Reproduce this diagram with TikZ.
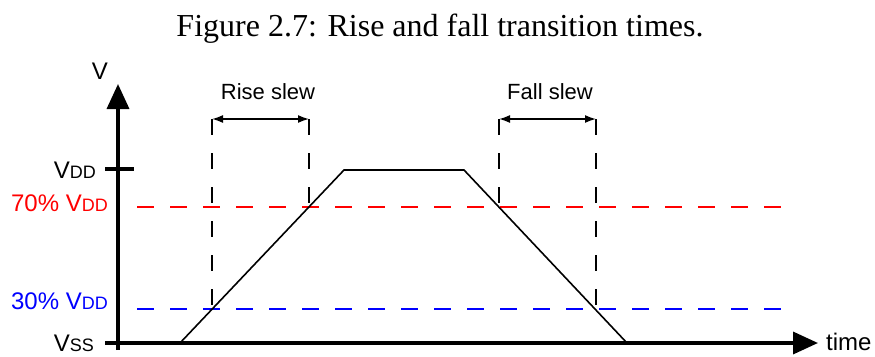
\documentclass[tikz,border=0pt]{standalone}
\usepackage{fontspec}
\setmainfont{Liberation Sans}
\newfontfamily\titlefont{Liberation Serif}
\usetikzlibrary{arrows.meta}
\begin{document}
\begin{tikzpicture}[x=1pt,y=-1pt,
  axis/.style={line width=3.5pt},
  bigtip/.style={-{Triangle[length=25pt,width=22pt]}},
  thresh/.style={line width=1.6pt,dash pattern=on 17pt off 16pt},
  guide/.style={line width=1.6pt,dash pattern=on 16pt off 18pt},
  wave/.style={line width=1.6pt},
  slew/.style={line width=1.6pt,{Latex[length=11pt,width=8pt]}-{Latex[length=11pt,width=8pt]}},
  lbl/.style={font=\fontsize{24}{28}\selectfont,inner sep=0pt},
  slbl/.style={font=\fontsize{22}{26}\selectfont,inner sep=0pt}]
\useasboundingbox (0,0) rectangle (875,356);
\newcommand{\sub}[1]{{\fontsize{18}{20}\selectfont #1}}
% title
\node[inner sep=0pt,font=\titlefont\fontsize{32}{36}\selectfont] (title) at (440,29) {Figure 2.7: Rise and fall transition times.};
% axes
\coordinate (ybot) at (118,350);
\coordinate (ytop) at (118,84);
\coordinate (xleft) at (105,343);
\coordinate (xright) at (818,343);
\draw[axis,bigtip] (ybot) -- (ytop);
\draw[axis,bigtip] (xleft) -- (xright);
\coordinate (tickL) at (105,169);
\coordinate (tickR) at (134,169);
\draw[axis] (tickL) -- (tickR);
% labels
\node[lbl] (vlab) at (100,71) {V};
\node[lbl,anchor=base east] (vdd) at (96,178) {V\sub{DD}};
\node[lbl,anchor=base east,text=red] (v70) at (108,211) {70\% V\sub{DD}};
\node[lbl,anchor=base east,text=blue] (v30) at (108,309) {30\% V\sub{DD}};
\node[lbl,anchor=base east] (vss) at (94,351) {V\sub{SS}};
\node[lbl,anchor=west] (time) at (826,342) {time};
% threshold lines
\coordinate (r1) at (137,207); \coordinate (r2) at (795,207);
\coordinate (b1) at (137,309); \coordinate (b2) at (795,309);
\draw[thresh,red] (r1) -- (r2);
\draw[thresh,blue] (b1) -- (b2);
% waveform
\coordinate (w0) at (180,343);
\coordinate (w1) at (344,170);
\coordinate (w2) at (464,170);
\coordinate (w3) at (627,343);
\draw[wave] (w0) -- (w1) -- (w2) -- (w3);
% guides
\coordinate (g1t) at (212,119); \coordinate (g1b) at (212,309);
\coordinate (g2t) at (309,119); \coordinate (g2b) at (309,207);
\coordinate (g3t) at (499,119); \coordinate (g3b) at (499,207);
\coordinate (g4t) at (596,119); \coordinate (g4b) at (596,309);
\draw[guide] (g1t) -- (g1b);
\draw[guide] (g2t) -- (g2b);
\draw[guide] (g3t) -- (g3b);
\draw[guide] (g4t) -- (g4b);
\draw[slew] (g1t) -- (g2t);
\draw[slew] (g3t) -- (g4t);
\node[slbl] (rise) at (268,92) {Rise slew};
\node[slbl] (fall) at (550,92) {Fall slew};
\end{tikzpicture}
\end{document}
